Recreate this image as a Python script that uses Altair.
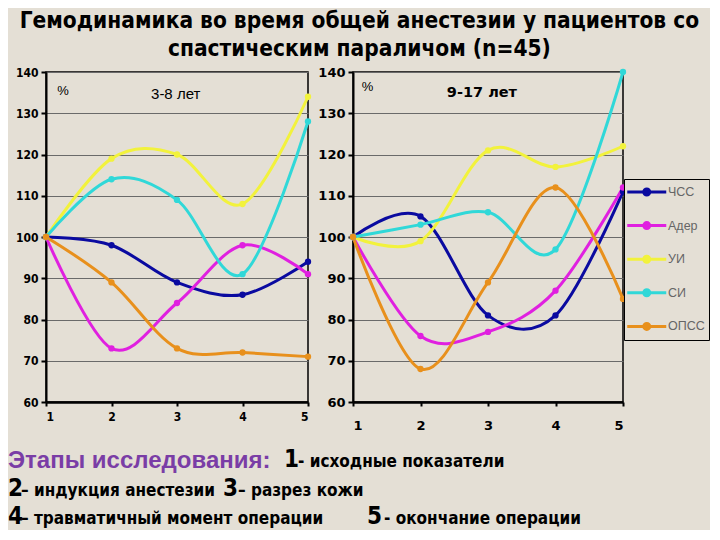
import altair as alt
import pandas as pd

stages = [1, 2, 3, 4, 5]
series = ["ЧСС", "Адер", "УИ", "СИ", "ОПСС"]
colors = ["#0A0AA0", "#E020E0", "#F2F23C", "#30D8D8", "#E8901C"]

left_chss = [100, 98, 89, 86, 94]
left_ader = [100, 73, 84, 98, 91]
left_ui = [100, 119, 120, 108, 134]
left_si = [100, 114, 109, 91, 128]
left_opss = [100, 89, 73, 72, 71]

right_chss = [100, 105, 81, 81, 111]
right_ader = [100, 76, 77, 87, 112]
right_ui = [100, 99, 121, 117, 122]
right_si = [100, 103, 106, 97, 140]
right_opss = [100, 68, 89, 112, 85]

title_lines = ["Гемодинамика во время общей анестезии у пациентов со",
               "спастическим параличом (n=45)"]
left_label = "3-8 лет"
right_label = "9-17 лет"

BG = "#E4DFD5"
NARROW = "Liberation Sans Narrow, Arial Narrow, DejaVu Sans Condensed, sans-serif"


def make_df(values):
    rows = []
    for name, vals in zip(series, values):
        for s, v in zip(stages, vals):
            rows.append({"stage": s, "value": v, "series": name})
    return pd.DataFrame(rows)


left_df = make_df([left_chss, left_ader, left_ui, left_si, left_opss])
right_df = make_df([right_chss, right_ader, right_ui, right_si, right_opss])

# legend glyph: a line with a dot in its middle
legend_symbol = "M-1.3,0L3.9,0M1.7,0A0.4,0.4,0,1,1,0.9,0A0.4,0.4,0,1,1,1.7,0"

color_enc = alt.Color(
    "series:N",
    scale=alt.Scale(domain=series, range=colors),
    sort=series,
    legend=alt.Legend(
        title=None, orient="none", legendX=578, legendY=107,
        strokeColor="black", fillColor=BG, padding=4,
        symbolType=legend_symbol, symbolSize=225, symbolStrokeWidth=3,
        labelFont="Liberation Sans", labelFontSize=12.5, labelColor="#666666",
        rowPadding=15.6, labelOffset=22,
    ),
)


def panel(df, label_font, label_size, label_pad_x, w, h, age, pct_xy, age_xy, age_font, age_bold, age_size):
    xax = alt.Axis(values=stages, format="d", grid=False, labelFont=label_font,
                   labelFontSize=label_size, labelFontWeight="bold", labelColor="black",
                   domainColor="black", domainWidth=2.5, tickColor="black", tickSize=4,
                   tickWidth=2, labelPadding=label_pad_x, title=None)
    yax = alt.Axis(values=[60, 70, 80, 90, 100, 110, 120, 130, 140], grid=True,
                   gridColor="#6A6A6A", gridWidth=1, labelFont=label_font,
                   labelFontSize=label_size, labelFontWeight="bold", labelColor="black",
                   domainColor="black", domainWidth=2, tickColor="black", tickSize=5,
                   tickWidth=2, labelPadding=3, title=None)
    base = alt.Chart(df).encode(
        x=alt.X("stage:Q", scale=alt.Scale(domain=[1, 5], nice=False), axis=xax),
        y=alt.Y("value:Q", scale=alt.Scale(domain=[60, 140], nice=False), axis=yax),
        color=color_enc,
    )
    lines = base.mark_line(interpolate="cardinal", strokeWidth=3)
    pts = base.mark_point(filled=True, size=40, opacity=1)
    ann = pd.DataFrame([{"stage": pct_xy[0], "value": pct_xy[1], "t": "%"}])
    ann2 = pd.DataFrame([{"stage": age_xy[0], "value": age_xy[1], "t": age}])
    pct = alt.Chart(ann).mark_text(font="Liberation Sans", fontSize=13, color="black",
                                   align="left", baseline="middle").encode(
        x="stage:Q", y="value:Q", text="t:N")
    agetxt = alt.Chart(ann2).mark_text(font=age_font, fontSize=age_size, fontWeight=age_bold,
                                       color="black", align="center", baseline="middle").encode(
        x="stage:Q", y="value:Q", text="t:N")
    return alt.layer(lines, pts, pct, agetxt).properties(width=w, height=h)


# bottom caption, positions relative to the left plot origin
OX, OY = 46, 73
cap = [
    ("Этапы исследования:", 8, 462, "#7A3DA6", 24, "Liberation Sans"),
    ("1", 284, 461, "black", 24, NARROW),
    ("- исходные показатели", 298, 463, "black", 17, NARROW),
    ("2", 8, 490, "black", 24, NARROW),
    ("– индукция анестезии", 21, 492, "black", 17, NARROW),
    ("3", 223, 490, "black", 24, NARROW),
    ("– разрез кожи", 238, 492, "black", 17, NARROW),
    ("4", 8, 518, "black", 24, NARROW),
    ("– травматичный момент операции", 21, 520, "black", 17, NARROW),
    ("5", 367, 518, "black", 24, NARROW),
    ("- окончание операции", 384, 520, "black", 17, NARROW),
]
cap_layers = []
for t, x, y, c, s, f in cap:
    cap_layers.append(
        alt.Chart(pd.DataFrame([{"t": t}])).mark_text(
            font=f, fontSize=s, fontWeight="bold", color=c, align="left", baseline="middle"
        ).encode(x=alt.value(x - OX), y=alt.value(y - OY), text="t:N")
    )

left = panel(left_df, NARROW, 12, 5, 262, 330, left_label, (1.17, 135.5), (2.98, 134.7),
             "Liberation Sans", "normal", 15)
left = alt.layer(left, *cap_layers)
right = panel(right_df, "DejaVu Sans", 13, 13, 270, 330, right_label, (1.13, 136.3), (2.91, 134.9),
              "DejaVu Sans", "bold", 14.5)

chart = alt.hconcat(left, right, spacing=45, bounds="flush").properties(
    title=alt.TitleParams(title_lines, font=NARROW, fontSize=22.5, fontWeight="bold",
                          color="black", anchor="middle", lineHeight=28, offset=5, dx=1),
    background=BG,
    padding={"left": -1, "top": 1, "right": 0, "bottom": 0},
).configure_view(stroke="black", strokeWidth=1.5, fill=BG)

chart.save("out.html", embed_options={"renderer": "svg", "actions": False})
